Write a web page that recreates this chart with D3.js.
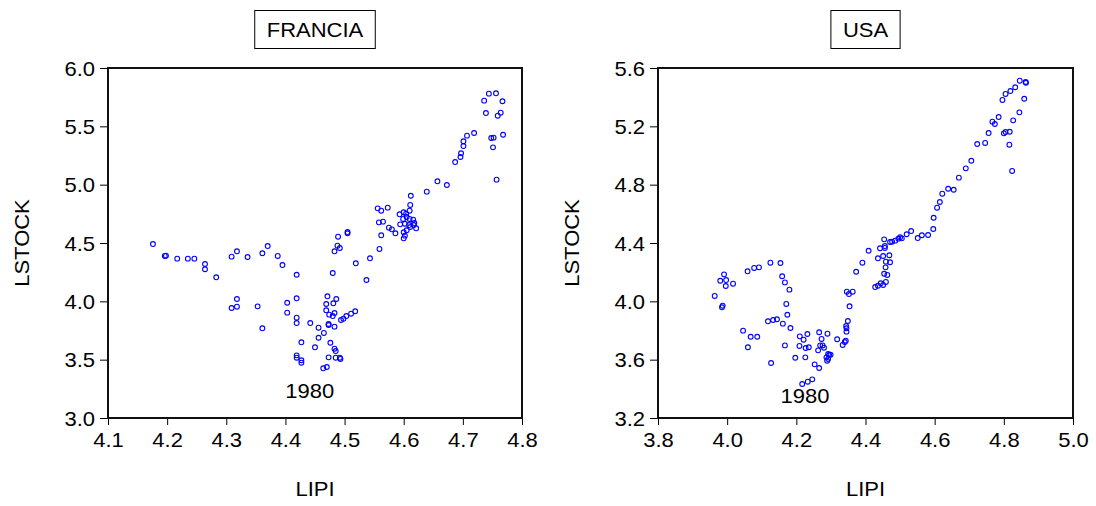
<!DOCTYPE html>
<html>
<head>
<meta charset="utf-8">
<script src="https://cdn.jsdelivr.net/npm/d3@7"></script>
<style>
  body { margin: 0; background: #ffffff; }
  text { font-family: "Liberation Sans", Arial, sans-serif; fill: #000; }
</style>
</head>
<body>
<div id="chart"></div>
<script>
// FRANCIA: LIPI (x) vs LSTOCK (y)
let franciaLipi = [
  4.176, 4.196, 4.198, 4.217, 4.235, 4.246, 4.264, 4.264, 4.283, 4.309,
  4.318, 4.336, 4.361, 4.370, 4.387, 4.395, 4.419, 4.318, 4.309, 4.318,
  4.353, 4.361, 4.403, 4.403, 4.419, 4.419, 4.419, 4.442, 4.456, 4.456,
  4.427, 4.450, 4.419, 4.419, 4.427, 4.427, 4.505, 4.505, 4.489, 4.488,
  4.492, 4.483, 4.562, 4.559, 4.543, 4.519, 4.480, 4.537, 4.471, 4.486,
  4.469, 4.481, 4.469, 4.483, 4.474, 4.480, 4.518, 4.511, 4.503, 4.498,
  4.494, 4.473, 4.473, 4.483, 4.465, 4.476, 4.483, 4.485, 4.473, 4.485,
  4.492, 4.493, 4.464, 4.470,
  4.612, 4.611, 4.610, 4.556, 4.562, 4.573, 4.558, 4.565, 4.575, 4.580,
  4.586, 4.593, 4.600, 4.604, 4.599, 4.605, 4.610, 4.616, 4.594, 4.602,
  4.609, 4.618, 4.621, 4.600, 4.605, 4.602, 4.600, 4.611, 4.617,
  4.744, 4.756, 4.736, 4.767, 4.739, 4.764, 4.759, 4.719, 4.707, 4.701,
  4.701, 4.697, 4.696, 4.687, 4.748, 4.752, 4.768, 4.751, 4.757, 4.657,
  4.673, 4.639
];
let franciaLstock = [
  4.491, 4.389, 4.391, 4.366, 4.366, 4.366, 4.320, 4.275, 4.206, 4.383,
  4.429, 4.380, 4.412, 4.474, 4.389, 4.311, 4.228, 4.020, 3.943, 3.954,
  3.957, 3.769, 3.988, 3.903, 4.026, 3.860, 3.814, 3.814, 3.774, 3.688,
  3.649, 3.606, 3.537, 3.517, 3.495, 3.474, 4.594, 4.583, 4.554, 4.477,
  4.457, 4.429, 4.566, 4.449, 4.369, 4.326, 4.243, 4.183, 4.043, 4.020,
  3.977, 3.983, 3.923, 3.900, 3.886, 3.874, 3.915, 3.894, 3.874, 3.851,
  3.840, 3.806, 3.797, 3.783, 3.729, 3.645, 3.594, 3.574, 3.520, 3.517,
  3.517, 3.506, 3.426, 3.437,
  4.905, 4.826, 4.777, 4.797, 4.777, 4.803, 4.677, 4.683, 4.631, 4.617,
  4.583, 4.746, 4.763, 4.751, 4.706, 4.723, 4.706, 4.700, 4.660, 4.665,
  4.654, 4.671, 4.626, 4.592, 4.609, 4.563, 4.540, 4.637, 4.654,
  5.780, 5.783, 5.720, 5.715, 5.614, 5.617, 5.591, 5.443, 5.420, 5.372,
  5.331, 5.269, 5.237, 5.194, 5.400, 5.403, 5.428, 5.320, 5.043, 5.029,
  4.997, 4.940
];

// USA: LIPI (x) vs LSTOCK (y)
let usaLipi = [
  4.846, 4.863, 4.864, 4.833, 4.819, 4.805, 4.796, 4.859, 4.845, 4.827,
  4.785, 4.767, 4.774, 4.756, 4.800, 4.805, 4.817, 4.816, 4.824, 4.746,
  4.723, 4.706, 4.690, 4.670, 4.639, 4.655, 4.622, 4.615, 4.607, 4.597,
  4.596, 4.581, 4.563, 4.551, 4.532, 4.519, 4.500, 4.505, 4.495, 4.486,
  4.477, 4.471, 4.454, 4.456, 4.456, 4.442, 4.409, 4.391, 4.373, 4.451,
  4.469, 4.436, 4.459, 4.471, 4.458, 4.454, 4.463, 4.459, 4.451, 4.444,
  4.436, 4.428, 4.363, 4.346, 4.352, 4.354, 4.349, 4.344, 4.345, 4.345,
  4.343, 4.340, 4.334, 4.318,
  3.964, 3.980, 3.997, 3.991, 3.996, 4.017, 3.987, 3.985, 4.059, 4.078,
  4.092, 4.125, 4.154, 4.159, 4.167, 4.180, 4.171, 4.174, 4.118, 4.133,
  4.144, 4.161, 4.183, 4.046, 4.068, 4.087, 4.060, 4.167, 4.127,
  4.210, 4.221, 4.232, 4.209, 4.227, 4.236, 4.197, 4.226, 4.266, 4.290,
  4.273, 4.269, 4.276, 4.280, 4.263, 4.292, 4.295, 4.299, 4.287, 4.289,
  4.292, 4.253, 4.266, 4.217, 4.233, 4.246
];
let usaLstock = [
  5.513, 5.504, 5.499, 5.468, 5.442, 5.422, 5.381, 5.389, 5.296, 5.241,
  5.264, 5.232, 5.216, 5.154, 5.152, 5.161, 5.163, 5.074, 4.894, 5.086,
  5.079, 4.964, 4.912, 4.848, 4.772, 4.765, 4.738, 4.681, 4.642, 4.573,
  4.496, 4.455, 4.453, 4.434, 4.482, 4.460, 4.439, 4.432, 4.429, 4.416,
  4.409, 4.407, 4.425, 4.379, 4.366, 4.364, 4.347, 4.265, 4.203, 4.311,
  4.316, 4.295, 4.272, 4.268, 4.233, 4.189, 4.181, 4.133, 4.112, 4.124,
  4.107, 4.098, 4.066, 4.066, 4.050, 3.966, 3.865, 3.831, 3.815, 3.792,
  3.730, 3.721, 3.701, 3.740,
  4.037, 4.141, 4.146, 4.185, 4.105, 4.121, 3.970, 3.959, 4.206, 4.229,
  4.233, 4.265, 4.263, 4.172, 4.130, 4.080, 3.982, 3.908, 3.863, 3.872,
  3.877, 3.847, 3.817, 3.799, 3.757, 3.757, 3.685, 3.698, 3.577,
  3.760, 3.737, 3.776, 3.694, 3.680, 3.685, 3.613, 3.616, 3.788, 3.778,
  3.742, 3.698, 3.698, 3.682, 3.664, 3.639, 3.632, 3.634, 3.616, 3.593,
  3.605, 3.568, 3.543, 3.433, 3.449, 3.465
];

// ticks
let franciaXTicks = [4.1, 4.2, 4.3, 4.4, 4.5, 4.6, 4.7, 4.8];
let franciaYTicks = [3.0, 3.5, 4.0, 4.5, 5.0, 5.5, 6.0];
let usaXTicks = [3.8, 4.0, 4.2, 4.4, 4.6, 4.8, 5.0];
let usaYTicks = [3.2, 3.6, 4.0, 4.4, 4.8, 5.2, 5.6];

// annotation "1980": [lipi, lstock]
let franciaNote = [4.441, 3.172];
let usaNote = [4.225, 3.306];

let width = 1096;
let height = 506;
let font_size = "20px";
let stretch = 1.1; // the original lettering is a bit wider than Arial

let svg = d3.select("#chart").append("svg")
    .attr("width", width)
    .attr("height", height);

svg.append("rect")
    .attr("width", width)
    .attr("height", height)
    .style("fill", "#ffffff");

drawPanel({
    title: "FRANCIA", left: 108, right: 522, top: 68, bottom: 418,
    xs: franciaLipi, ys: franciaLstock,
    xTicks: franciaXTicks, yTicks: franciaYTicks, note: franciaNote
});

drawPanel({
    title: "USA", left: 658, right: 1073, top: 68, bottom: 418,
    xs: usaLipi, ys: usaLstock,
    xTicks: usaXTicks, yTicks: usaYTicks, note: usaNote
});

// widen text around its anchor point
function widen(sel, x, y) {
    sel.attr("transform", `translate(${x},${y}) scale(${stretch},1)`)
        .attr("x", 0)
        .attr("y", 0);
}

function drawPanel(p) {
    let x = d3.scaleLinear()
        .domain(d3.extent(p.xTicks))
        .range([p.left, p.right]);
    let y = d3.scaleLinear()
        .domain(d3.extent(p.yTicks))
        .range([p.bottom, p.top]);

    let g = svg.append("g");

    // x axis
    let x_ax = d3.axisBottom(x)
        .tickValues(p.xTicks)
        .tickFormat(d3.format(".1f"))
        .tickSize(7)
        .tickSizeOuter(0);
    let xg = g.append("g")
        .attr("transform", `translate(0,${p.bottom})`)
        .style("font-size", font_size)
        .call(x_ax);
    xg.selectAll(".tick text")
        .attr("dy", null)
        .attr("transform", `translate(0,29) scale(${stretch},1)`)
        .attr("y", 0);

    // y axis
    let y_ax = d3.axisLeft(y)
        .tickValues(p.yTicks)
        .tickFormat(d3.format(".1f"))
        .tickSize(8)
        .tickSizeOuter(0);
    let yg = g.append("g")
        .attr("transform", `translate(${p.left},0)`)
        .style("font-size", font_size)
        .call(y_ax);
    yg.selectAll(".tick text")
        .attr("dy", "0.35em")
        .attr("transform", `translate(-13,0) scale(${stretch},1)`)
        .attr("x", 0);

    g.selectAll(".domain").remove();
    g.selectAll(".tick line").style("stroke", "#000").style("stroke-width", 1);
    g.selectAll(".tick text")
        .style("font-family", '"Liberation Sans", Arial, sans-serif')
        .style("fill", "#000");

    // frame
    g.append("rect")
        .attr("x", p.left)
        .attr("y", p.top)
        .attr("width", p.right - p.left)
        .attr("height", p.bottom - p.top)
        .style("fill", "none")
        .style("stroke", "#111")
        .style("stroke-width", 2);

    // points
    g.append("g")
        .selectAll("circle")
        .data(d3.range(p.xs.length))
        .enter()
        .append("circle")
            .attr("cx", i => x(p.xs[i]))
            .attr("cy", i => y(p.ys[i]))
            .attr("r", 2.4)
            .style("fill", "none")
            .style("stroke", "#0000ff")
            .style("stroke-width", 1.1);

    // 1980 label
    g.append("text")
        .attr("text-anchor", "middle")
        .style("font-size", font_size)
        .text("1980")
        .call(widen, x(p.note[0]), y(p.note[1]));

    // axis titles
    let cx = (p.left + p.right) / 2;
    g.append("text")
        .attr("text-anchor", "middle")
        .style("font-size", font_size)
        .text("LIPI")
        .call(widen, cx, 496);

    g.append("text")
        .attr("transform", `translate(${p.left - 79},${(p.top + p.bottom) / 2}) rotate(-90) scale(${stretch},1)`)
        .attr("text-anchor", "middle")
        .style("font-size", font_size)
        .text("LSTOCK");

    // boxed title
    let box = g.append("rect")
        .attr("y", 10.5)
        .attr("height", 38)
        .style("fill", "#ffffff")
        .style("stroke", "#000")
        .style("stroke-width", 1);
    let t = g.append("text")
        .attr("text-anchor", "middle")
        .style("font-size", font_size)
        .text(p.title)
        .call(widen, cx, 37);
    let tw = t.node().getComputedTextLength() * stretch;
    box.attr("x", cx - tw / 2 - 12)
        .attr("width", tw + 24);
}
</script>
</body>
</html>
